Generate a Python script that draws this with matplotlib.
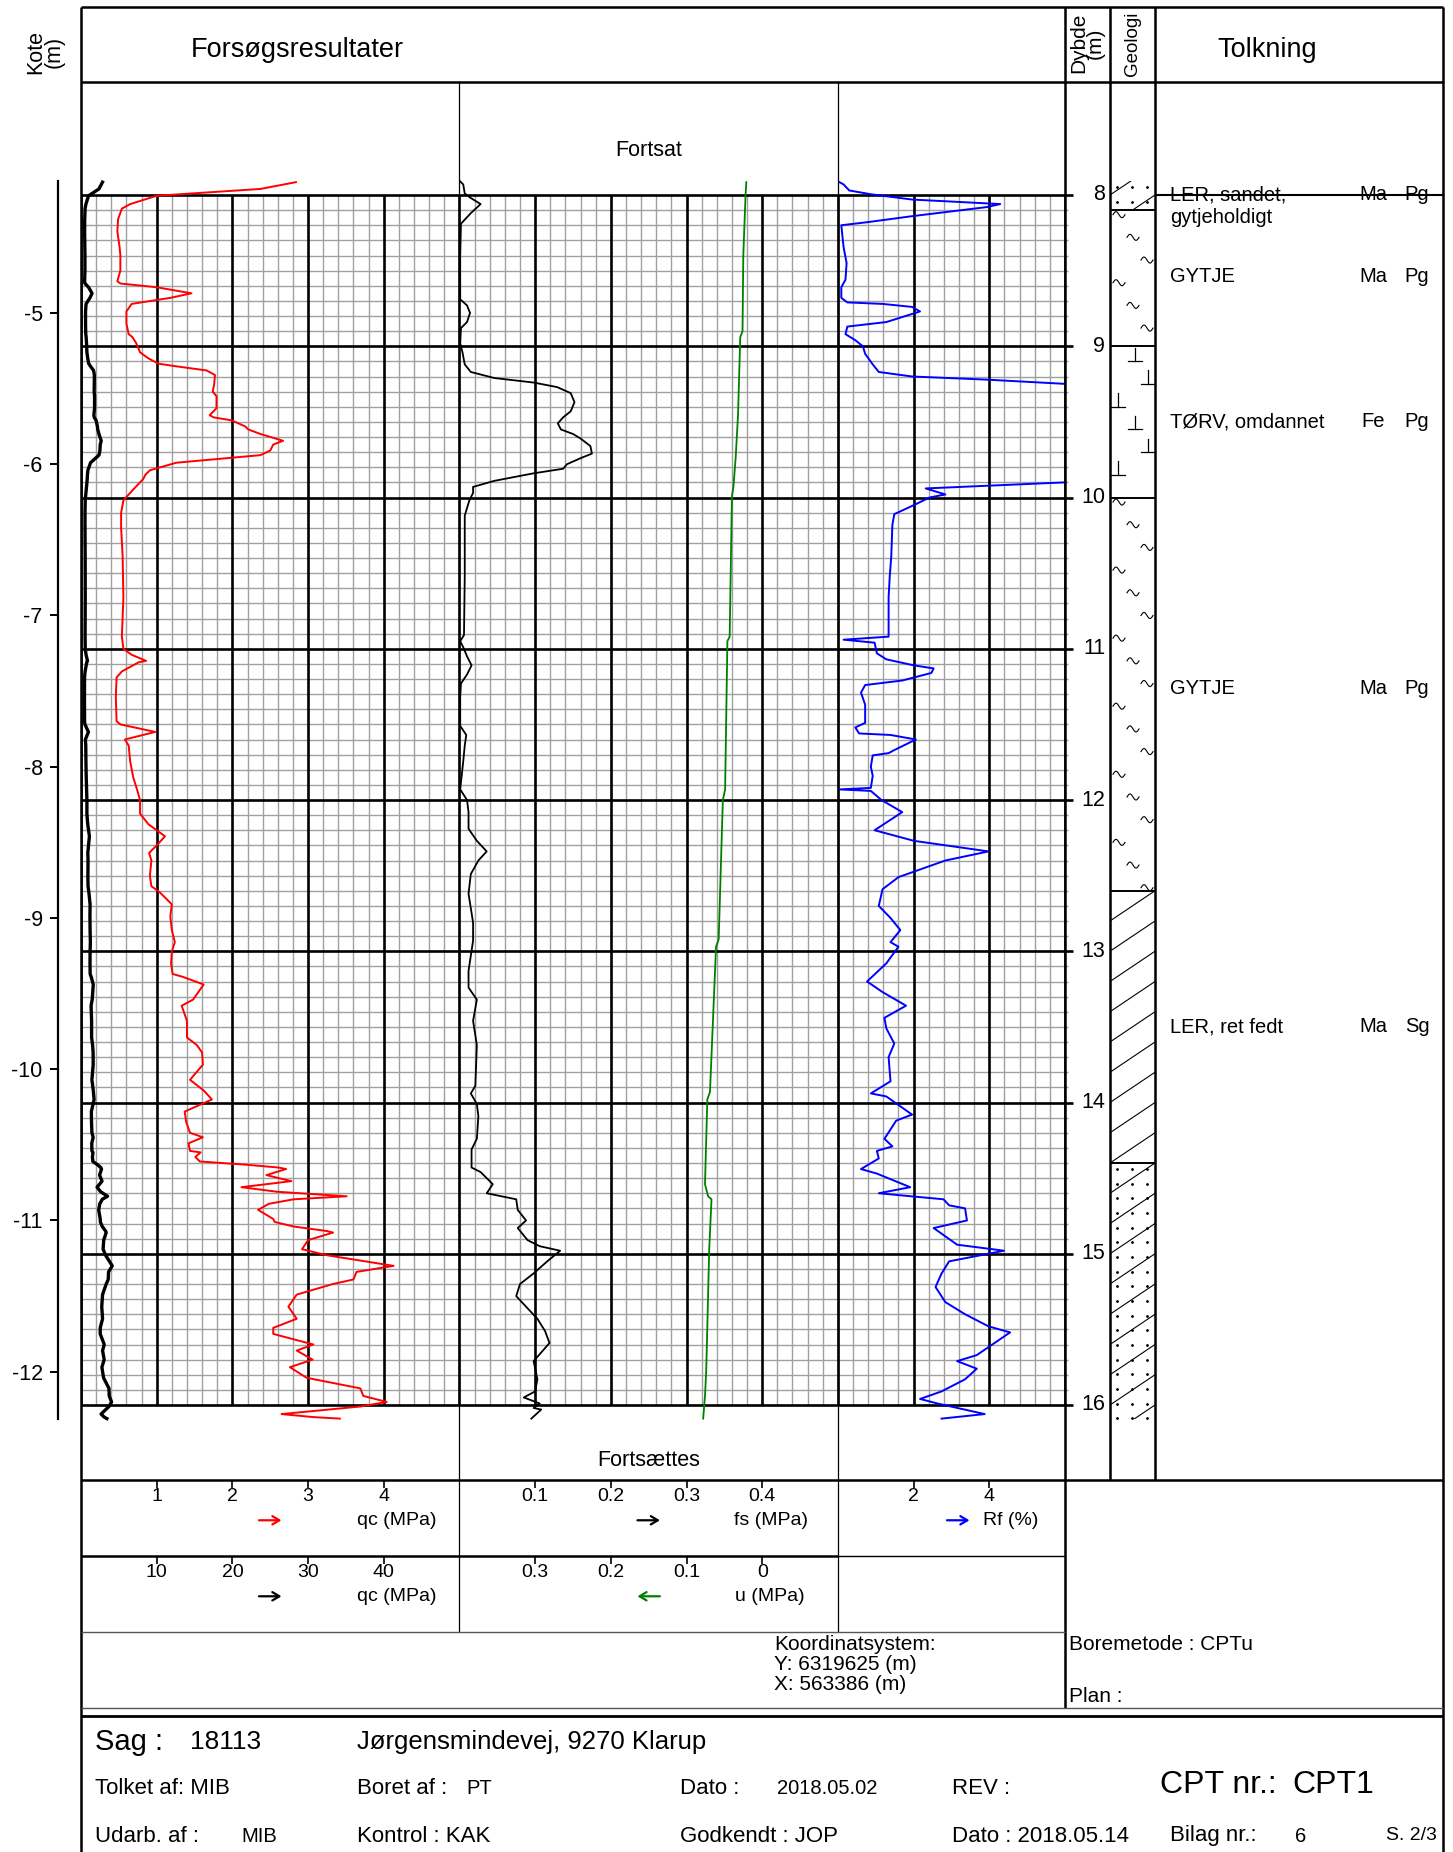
import matplotlib
matplotlib.use("Agg")
import matplotlib.pyplot as plt
import numpy as np
from matplotlib.patches import Rectangle

plt.rcParams["font.family"] = ["Liberation Sans", "DejaVu Sans"]
plt.rcParams["axes.unicode_minus"] = False

# ---------------------------------------------------------------- data
QC_DEPTH = [
    7.915, 7.96, 8.005, 8.06, 8.09, 8.16, 8.24, 8.345, 8.40, 8.50,
    8.57, 8.585, 8.61, 8.65, 8.68, 8.72, 8.77, 8.85, 8.92, 8.94,
    8.98, 9.04, 9.08, 9.115, 9.13, 9.16, 9.19, 9.25, 9.30, 9.33,
    9.41, 9.455, 9.47, 9.49, 9.53, 9.55, 9.58, 9.625, 9.65, 9.69,
    9.72, 9.75, 9.77, 9.82, 9.85, 9.88, 9.91, 9.98, 10.02, 10.10,
    10.20, 10.39, 10.66, 10.79, 10.92, 11.00, 11.04, 11.08, 11.09, 11.15,
    11.19, 11.32, 11.48, 11.50, 11.55, 11.60, 11.64, 11.745, 11.85, 11.93,
    12.00, 12.09, 12.16, 12.24, 12.30, 12.35, 12.40, 12.50, 12.57, 12.61,
    12.69, 12.77, 12.86, 12.94, 13.00, 13.08, 13.15, 13.17, 13.22, 13.32,
    13.36, 13.46, 13.57, 13.62, 13.67, 13.75, 13.85, 13.92, 13.98, 14.06,
    14.13, 14.20, 14.23, 14.27, 14.32, 14.33, 14.36, 14.39, 14.41, 14.43,
    14.44, 14.48, 14.52, 14.56, 14.59, 14.62, 14.64, 14.67, 14.71, 14.77,
    14.79, 14.82, 14.85, 14.86, 14.91, 14.97, 15.01, 15.08, 15.12, 15.17,
    15.20, 15.27, 15.35, 15.43, 15.49, 15.53, 15.60, 15.64, 15.70, 15.75,
    15.82, 15.89, 15.94, 15.98, 16.01, 16.06, 16.08, 16.09,
]
QC_MPA = [
    2.84, 2.37, 1.00, 0.65, 0.54, 0.49, 0.48, 0.51, 0.52, 0.52,
    0.48, 0.52, 1.00, 1.46, 1.18, 0.67, 0.60, 0.60, 0.63, 0.68,
    0.73, 0.78, 0.89, 1.02, 1.22, 1.66, 1.77, 1.76, 1.74, 1.79,
    1.79, 1.70, 1.75, 1.99, 2.17, 2.21, 2.37, 2.67, 2.54, 2.50,
    2.37, 1.70, 1.26, 0.91, 0.85, 0.82, 0.76, 0.63, 0.56, 0.53,
    0.53, 0.55, 0.56, 0.55, 0.54, 0.56, 0.67, 0.86, 0.76, 0.54,
    0.47, 0.46, 0.47, 0.52, 0.98, 0.58, 0.63, 0.65, 0.69, 0.74,
    0.78, 0.78, 0.89, 1.11, 1.00, 0.90, 0.93, 0.91, 0.93, 1.04,
    1.20, 1.18, 1.20, 1.24, 1.20, 1.19, 1.21, 1.35, 1.62, 1.48,
    1.33, 1.40, 1.40, 1.53, 1.60, 1.61, 1.44, 1.62, 1.73, 1.37,
    1.39, 1.44, 1.61, 1.42, 1.44, 1.58, 1.51, 1.57, 2.15, 2.61,
    2.71, 2.45, 2.78, 2.12, 2.59, 3.51, 2.81, 2.48, 2.34, 2.54,
    2.56, 2.81, 3.25, 3.33, 3.00, 2.92, 3.25, 4.13, 3.64, 3.60,
    3.33, 2.85, 2.74, 2.85, 2.54, 2.54, 3.07, 2.85, 3.06, 2.76,
    2.98, 3.69, 3.73, 4.04, 3.69, 2.65, 3.07, 3.42,
]

FS_DEPTH = [
    7.91, 7.93, 7.99, 8.02, 8.06, 8.12, 8.19, 8.40, 8.69, 8.73,
    8.78, 8.84, 8.88, 8.98, 9.04, 9.12, 9.17, 9.21, 9.24, 9.27,
    9.31, 9.37, 9.43, 9.47, 9.51, 9.55, 9.58, 9.61, 9.66, 9.71,
    9.74, 9.78, 9.81, 9.84, 9.89, 9.93, 9.97, 10.02, 10.12, 10.52,
    10.91, 10.95, 10.99, 11.05, 11.11, 11.17, 11.23, 11.32, 11.51, 11.57,
    11.64, 11.745, 11.93, 12.00, 12.08, 12.19, 12.27, 12.34, 12.40, 12.49,
    12.62, 12.81, 12.93, 13.03, 13.13, 13.24, 13.32, 13.46, 13.62, 13.89,
    13.94, 14.01, 14.09, 14.24, 14.31, 14.43, 14.46, 14.54, 14.60, 14.64,
    14.71, 14.78, 14.83, 14.91, 14.95, 14.98, 15.05, 15.13, 15.20, 15.28,
    15.35, 15.43, 15.51, 15.59, 15.71, 15.83, 15.91, 15.95, 15.99, 16.02,
    16.03, 16.09,
]
FS_MPA = [
    0.001, 0.005, 0.007, 0.015, 0.028, 0.015, 0.002, 0.001, 0.001, 0.010,
    0.014, 0.010, 0.002, 0.001, 0.004, 0.007, 0.015, 0.046, 0.098, 0.129,
    0.147, 0.152, 0.147, 0.137, 0.130, 0.134, 0.150, 0.160, 0.173, 0.175,
    0.160, 0.142, 0.137, 0.098, 0.046, 0.018, 0.018, 0.013, 0.007, 0.007,
    0.006, 0.001, 0.005, 0.010, 0.016, 0.010, 0.002, 0.001, 0.001, 0.009,
    0.007, 0.005, 0.001, 0.010, 0.012, 0.012, 0.023, 0.036, 0.025, 0.015,
    0.012, 0.018, 0.018, 0.015, 0.012, 0.012, 0.023, 0.018, 0.023, 0.021,
    0.015, 0.023, 0.025, 0.023, 0.016, 0.016, 0.028, 0.044, 0.036, 0.075,
    0.077, 0.088, 0.077, 0.090, 0.106, 0.133, 0.116, 0.098, 0.080, 0.075,
    0.088, 0.103, 0.113, 0.119, 0.098, 0.103, 0.100, 0.085, 0.106, 0.098,
    0.108, 0.095,
]

U_DEPTH = [
    7.915, 8.00, 8.40, 8.90, 8.94, 9.46, 9.73, 9.93, 9.99, 10.92,
    10.95, 11.93, 12.00, 12.92, 12.97, 13.93, 13.98, 14.54, 14.62, 14.64,
    14.97, 15.78, 15.94, 16.09,
]
U_MPA = [
    0.021, 0.022, 0.025, 0.026, 0.029, 0.032, 0.035, 0.038, 0.040, 0.043,
    0.046, 0.049, 0.052, 0.0575, 0.061, 0.069, 0.0725, 0.0756, 0.0715, 0.067,
    0.070, 0.074, 0.0756, 0.078,
]

RF_DEPTH = [
    7.915, 7.93, 7.97, 7.995, 8.03, 8.06, 8.08, 8.14, 8.18, 8.20,
    8.345, 8.45, 8.56, 8.61, 8.68, 8.71, 8.72, 8.74, 8.77, 8.84,
    8.87, 8.92, 8.96, 9.00, 9.05, 9.12, 9.17, 9.20, 9.22, 9.25,
    9.35, 9.45, 9.52, 9.62, 9.75, 9.86, 9.90, 9.94, 9.98, 10.00,
    10.05, 10.11, 10.18, 10.39, 10.52, 10.66, 10.92, 10.94, 10.96, 11.03,
    11.07, 11.11, 11.13, 11.16, 11.21, 11.24, 11.29, 11.37, 11.49, 11.52,
    11.56, 11.57, 11.60, 11.67, 11.69, 11.705, 11.78, 11.84, 11.92, 11.93,
    11.94, 12.00, 12.08, 12.20, 12.27, 12.34, 12.40, 12.51, 12.59, 12.70,
    12.78, 12.86, 12.94, 12.97, 13.08, 13.20, 13.27, 13.36, 13.44, 13.51,
    13.61, 13.70, 13.86, 13.94, 13.96, 14.08, 14.12, 14.24, 14.29, 14.32,
    14.37, 14.44, 14.47, 14.56, 14.60, 14.64, 14.68, 14.70, 14.78, 14.83,
    14.94, 14.98, 15.05, 15.13, 15.22, 15.32, 15.40, 15.48, 15.52, 15.67,
    15.71, 15.76, 15.83, 15.91, 15.96, 15.99, 16.06, 16.09,
]
RF_PCT = [
    0.04, 0.15, 0.30, 0.87, 1.96, 4.29, 3.93, 1.96, 0.77, 0.09,
    0.15, 0.23, 0.20, 0.09, 0.09, 0.25, 1.18, 1.96, 2.17, 1.28,
    0.25, 0.20, 0.46, 0.66, 0.72, 0.92, 1.08, 1.96, 3.88, 6.10,
    8.40, 7.50, 6.00, 7.00, 7.60, 7.00, 6.00, 2.32, 2.84, 2.42,
    2.01, 1.49, 1.44, 1.41, 1.37, 1.34, 1.34, 0.15, 0.97, 1.03,
    1.28, 2.01, 2.53, 2.47, 1.70, 0.72, 0.61, 0.72, 0.72, 0.46,
    0.56, 1.39, 2.06, 1.49, 1.34, 0.92, 0.87, 0.92, 0.87, 0.04,
    0.87, 1.15, 1.70, 0.97, 2.01, 3.98, 2.84, 1.60, 1.18, 1.08,
    1.39, 1.65, 1.39, 1.60, 1.28, 0.77, 1.18, 1.80, 1.23, 1.28,
    1.49, 1.34, 1.39, 0.87, 1.28, 1.96, 1.54, 1.23, 1.44, 1.03,
    1.08, 0.61, 1.03, 1.91, 1.08, 2.79, 2.94, 3.36, 3.41, 2.53,
    3.15, 4.39, 2.94, 2.74, 2.58, 2.84, 3.36, 3.98, 4.55, 3.67,
    3.15, 3.67, 3.36, 2.74, 2.17, 2.63, 3.88, 2.74,
]

LAYER_TOP = [7.91, 8.10, 9.00, 10.00, 12.60, 14.40]
LAYER_BOT = [8.10, 9.00, 10.00, 12.60, 14.40, 16.09]
LAYER_SYMBOL = ["sandy", "gytje", "peat", "gytje", "clay", "sandy"]

TOLK_LINES = [["LER, sandet,", "gytjeholdigt"], ["GYTJE"], ["TØRV, omdannet"],
              ["GYTJE"], ["LER, ret fedt"]]
TOLK_DEPTH = [8.00, 8.54, 9.50, 11.26, 13.50]
TOLK_GENESIS = ["Ma", "Ma", "Fe", "Ma", "Ma"]
TOLK_AGE = ["Pg", "Pg", "Pg", "Pg", "Sg"]

DEPTH_TICKS = list(range(8, 17))
KOTE_TICKS = list(range(-12, -4))
GROUND_LEVEL = 3.78

QC_TICKS, QC_LABELS = [1, 2, 3, 4], ["1", "2", "3", "4"]
QC10_TICKS, QC10_LABELS = [10, 20, 30, 40], ["10", "20", "30", "40"]
FS_TICKS, FS_LABELS = [0.1, 0.2, 0.3, 0.4], ["0.1", "0.2", "0.3", "0.4"]
U_TICKS, U_LABELS = [0.3, 0.2, 0.1, 0.0], ["0.3", "0.2", "0.1", "0"]
RF_TICKS, RF_LABELS = [2, 4], ["2", "4"]

# ---------------------------------------------------------------- layout
W, H = 1453, 1852
GX0, GCOL = 81.0, 75.69
Y8, PXM = 195.0, 151.25
D_TOP, D_BOT = 7.6, 16.45

fig = plt.figure(figsize=(W / 100, H / 100), dpi=100)


def px_axes(x0, x1, y0, y1):
    ax = fig.add_axes([x0 / W, 1 - y1 / H, (x1 - x0) / W, (y1 - y0) / H])
    ax.set_axis_off()
    return ax


def depth_y(d):
    return Y8 + (d - 8) * PXM


def depth_axes(x0, x1, xlim):
    ax = px_axes(x0, x1, depth_y(D_TOP), depth_y(D_BOT))
    ax.set_xlim(*xlim)
    ax.set_ylim(D_BOT, D_TOP)
    return ax


def col(k):
    return GX0 + k * GCOL


# grid
ax_grid = depth_axes(col(0), col(13), (0, 13))
minor_x = [k / 5 for k in range(66) if k % 5]
minor_y = [8 + k / 10 for k in range(1, 80) if k % 10]
ax_grid.vlines(minor_x, 8, 16, color="#a0a0a0", lw=1.0)
ax_grid.hlines(minor_y, 0, 13.04, color="#a0a0a0", lw=1.0, clip_on=False)
ax_grid.vlines(range(14), 8, 16, color="black", lw=1.9)
ax_grid.hlines(DEPTH_TICKS, 0, 13.1, color="black", lw=1.9, clip_on=False)
for d in DEPTH_TICKS:
    ax_grid.text(13.53, d, str(d), ha="right", va="center", fontsize=15.5, clip_on=False)

# curves
ax_qc10 = depth_axes(col(0), col(5), (0, 50))
ax_qc10.plot(QC_MPA, QC_DEPTH, color="black", lw=2.4)
ax_qc = depth_axes(col(0), col(5), (0, 5))
ax_qc.plot(QC_MPA, QC_DEPTH, color="red", lw=1.4)
ax_fs = depth_axes(col(5), col(10), (0, 0.5))
ax_fs.plot(FS_MPA, FS_DEPTH, color="black", lw=1.3)
ax_u = depth_axes(col(5), col(10), (0.4, -0.1))
ax_u.plot(U_MPA, U_DEPTH, color="green", lw=1.3)
ax_rf = depth_axes(col(10), col(13), (0, 6))
ax_rf.plot(RF_PCT, RF_DEPTH, color="blue", lw=1.4)

# kote axis
ax_k = fig.add_axes([58 / W, 1 - depth_y(D_BOT) / H, 1 / W,
                     (depth_y(D_BOT) - depth_y(D_TOP)) / H])
ax_k.set_ylim(GROUND_LEVEL - D_BOT, GROUND_LEVEL - D_TOP)
for side in ("top", "right", "bottom"):
    ax_k.spines[side].set_visible(False)
ax_k.spines["left"].set_bounds(GROUND_LEVEL - 16.09, GROUND_LEVEL - 7.91)
ax_k.spines["left"].set_linewidth(1.6)
ax_k.set_xticks([])
ax_k.set_yticks(KOTE_TICKS)
ax_k.set_yticklabels([str(k) for k in KOTE_TICKS])
ax_k.tick_params(axis="y", length=6, width=1.4, labelsize=15.5, pad=5)
ax_k.patch.set_alpha(0)

# geology column
ax_geo = depth_axes(1110, 1155, (0, 45))
t = np.linspace(0, 1, 25)
for top, bot, kind in zip(LAYER_TOP, LAYER_BOT, LAYER_SYMBOL):
    clip = Rectangle((0, top), 45, bot - top, transform=ax_geo.transData,
                     fill=False, visible=False)
    ax_geo.add_patch(clip)
    arts = []
    if kind in ("clay", "sandy"):
        for d0 in np.arange(np.floor(top * 5) / 5, bot + 0.25, 0.2):
            arts += ax_geo.plot([0, 45], [d0, d0 - 0.2], color="black", lw=0.8)
    if kind == "sandy":
        dd = np.arange(top + 0.04, bot, 0.097)
        for xx in (7, 22, 37):
            arts += ax_geo.plot(np.full(len(dd), xx), dd, ls="none", marker="o",
                                ms=1.0, color="black")
    if kind == "gytje":
        for i, d in enumerate(np.arange(top + 0.03, bot - 0.02, 0.15)):
            xc = (9, 23, 37)[i % 3]
            arts += ax_geo.plot(xc - 6 + 12 * t, d - 0.02 * np.sin(2 * np.pi * t),
                                color="black", lw=0.8)
    if kind == "peat":
        for i, d in enumerate(np.arange(top + 0.1, bot - 0.02, 0.15)):
            xc = (25, 38, 8)[i % 3]
            arts += ax_geo.plot([xc, xc], [d - 0.09, d], color="black", lw=0.9)
            arts += ax_geo.plot([xc - 7, xc + 7], [d, d], color="black", lw=0.9)
    for a in arts:
        a.set_clip_path(clip)
ax_geo.hlines(LAYER_TOP[1:], 0, 45, color="black", lw=1.4)

# interpretation column
ax_t = depth_axes(1155, 1443, (0, 1))
for lines, d, gen, age in zip(TOLK_LINES, TOLK_DEPTH, TOLK_GENESIS, TOLK_AGE):
    for i, line in enumerate(lines):
        ax_t.text(0.052, d + i * 0.15, line, ha="left", va="center", fontsize=14.5)
    ax_t.text(0.757, d, gen, ha="center", va="center", fontsize=14.5)
    ax_t.text(0.91, d, age, ha="center", va="center", fontsize=14.5)
ax_t.hlines(TOLK_DEPTH[0], 0, 1, color="black", lw=1.5)


# scale rows (y runs 0 at the top of the row to 1 at the bottom)
def scale_row(x0, x1, y0, y1, lim, ticks, labels, color, right, unit, unit_x):
    ax = px_axes(x0, x1, y0, y1)
    ax.set_xlim(*lim)
    ax.set_ylim(1, 0)
    ax.vlines(ticks, 0, 0.1, color="black", lw=1.2)
    for tk, lab in zip(ticks, labels):
        ax.text(tk, 0.22, lab, ha="center", va="center", fontsize=14)
    width = x1 - x0
    ax_frac = 0.5 if width > 300 else 0.53
    half = 14 / width
    unit_y = 1 - 0.53
    head, tail = (ax_frac + half, ax_frac - half) if right else (ax_frac - half, ax_frac + half)
    ax.annotate("", xy=(head, unit_y), xytext=(tail, unit_y), xycoords="axes fraction",
                arrowprops=dict(arrowstyle="->,head_length=0.5,head_width=0.3",
                                color=color, lw=1.6))
    ax.text((unit_x - x0) / width, unit_y, unit, transform=ax.transAxes,
            ha="right", va="center", fontsize=14)


scale_row(col(0), col(5), 1480, 1556, (0, 5), QC_TICKS, QC_LABELS, "red", True, "qc (MPa)", 436)
scale_row(col(5), col(10), 1480, 1556, (0, 0.5), FS_TICKS, FS_LABELS, "black", True, "fs (MPa)", 808)
scale_row(col(10), col(13), 1480, 1556, (0, 6), RF_TICKS, RF_LABELS, "blue", True, "Rf (%)", 1038)
scale_row(col(0), col(5), 1556, 1632, (0, 50), QC10_TICKS, QC10_LABELS, "black", True, "qc (MPa)", 436)
scale_row(col(5), col(10), 1556, 1632, (0.4, -0.1), U_TICKS, U_LABELS, "green", False, "u (MPa)", 805)

# frame, headers and title block
ov = px_axes(0, W, 0, H)
ov.set_xlim(0, W)
ov.set_ylim(H, 0)


def seg(x0, y0, x1, y1, lw=1.8, color="black"):
    ov.plot([x0, x1], [y0, y1], color=color, lw=lw, solid_capstyle="butt")


seg(81, 7, 1443, 7)
seg(81, 7, 81, H)
seg(1443, 7, 1443, H)
seg(81, 82, 1443, 82)
seg(1065, 7, 1065, 1708)
seg(1110, 7, 1110, 1480)
seg(1155, 7, 1155, 1480)
seg(col(5), 82, col(5), 1632, lw=0.9)
seg(col(10), 82, col(10), 1632, lw=0.9)
seg(81, 1480, 1443, 1480)
seg(81, 1556, col(10), 1556)
seg(col(10), 1556, 1065, 1556, lw=1.0)
seg(81, 1632, 1065, 1632, lw=1.0, color="#555555")
seg(81, 1708, 1443, 1708, lw=1.0, color="#555555")
seg(81, 1716, 1443, 1716, lw=2.0)

ov.text(297, 50, "Forsøgsresultater", ha="center", va="center", fontsize=19.5)
ov.text(1267, 50, "Tolkning", ha="center", va="center", fontsize=19.5)
ov.text(45, 52, "Kote\n(m)", rotation=90, ha="center", va="center", fontsize=15.5,
        linespacing=0.85)
ov.text(1087, 43, "Dybde\n(m)", rotation=90, ha="center", va="center", fontsize=15,
        linespacing=0.8)
ov.text(1133, 44, "Geologi", rotation=90, ha="center", va="center", fontsize=13.5)
ov.text(col(7.5), 151, "Fortsat", ha="center", va="center", fontsize=15.5)
ov.text(col(7.5), 1460, "Fortsættes", ha="center", va="center", fontsize=15.5)

ov.text(774, 1644, "Koordinatsystem:", ha="left", va="center", fontsize=15)
ov.text(774, 1664, "Y: 6319625 (m)", ha="left", va="center", fontsize=15)
ov.text(774, 1684, "X: 563386 (m)", ha="left", va="center", fontsize=15)
ov.text(1069, 1645, "Boremetode : CPTu", ha="left", va="center", fontsize=15)
ov.text(1069, 1696, "Plan :", ha="left", va="center", fontsize=15)

title_items = [
    (95, 1742, "Sag :", 21), (190, 1742, "18113", 19),
    (357, 1742, "Jørgensmindevej, 9270 Klarup", 18.5),
    (95, 1789, "Tolket af: MIB", 16), (357, 1789, "Boret af :", 16),
    (466, 1789, "PT", 14.5), (680, 1789, "Dato :", 16), (777, 1789, "2018.05.02", 14.5),
    (952, 1789, "REV :", 16), (1160, 1785, "CPT nr.:", 23), (1292, 1785, "CPT1", 23),
    (95, 1836, "Udarb. af :", 16), (241, 1836, "MIB", 14.5), (357, 1836, "Kontrol : KAK", 16),
    (680, 1836, "Godkendt : JOP", 16), (952, 1836, "Dato : 2018.05.14", 16),
    (1170, 1836, "Bilag nr.:", 16), (1295, 1836, "6", 14.5),
]
for x, y, s, size in title_items:
    ov.text(x, y, s, ha="left", va="center", fontsize=size)
ov.text(1437, 1836, "S. 2/3", ha="right", va="center", fontsize=14)

fig.savefig("out.png", dpi=100)
